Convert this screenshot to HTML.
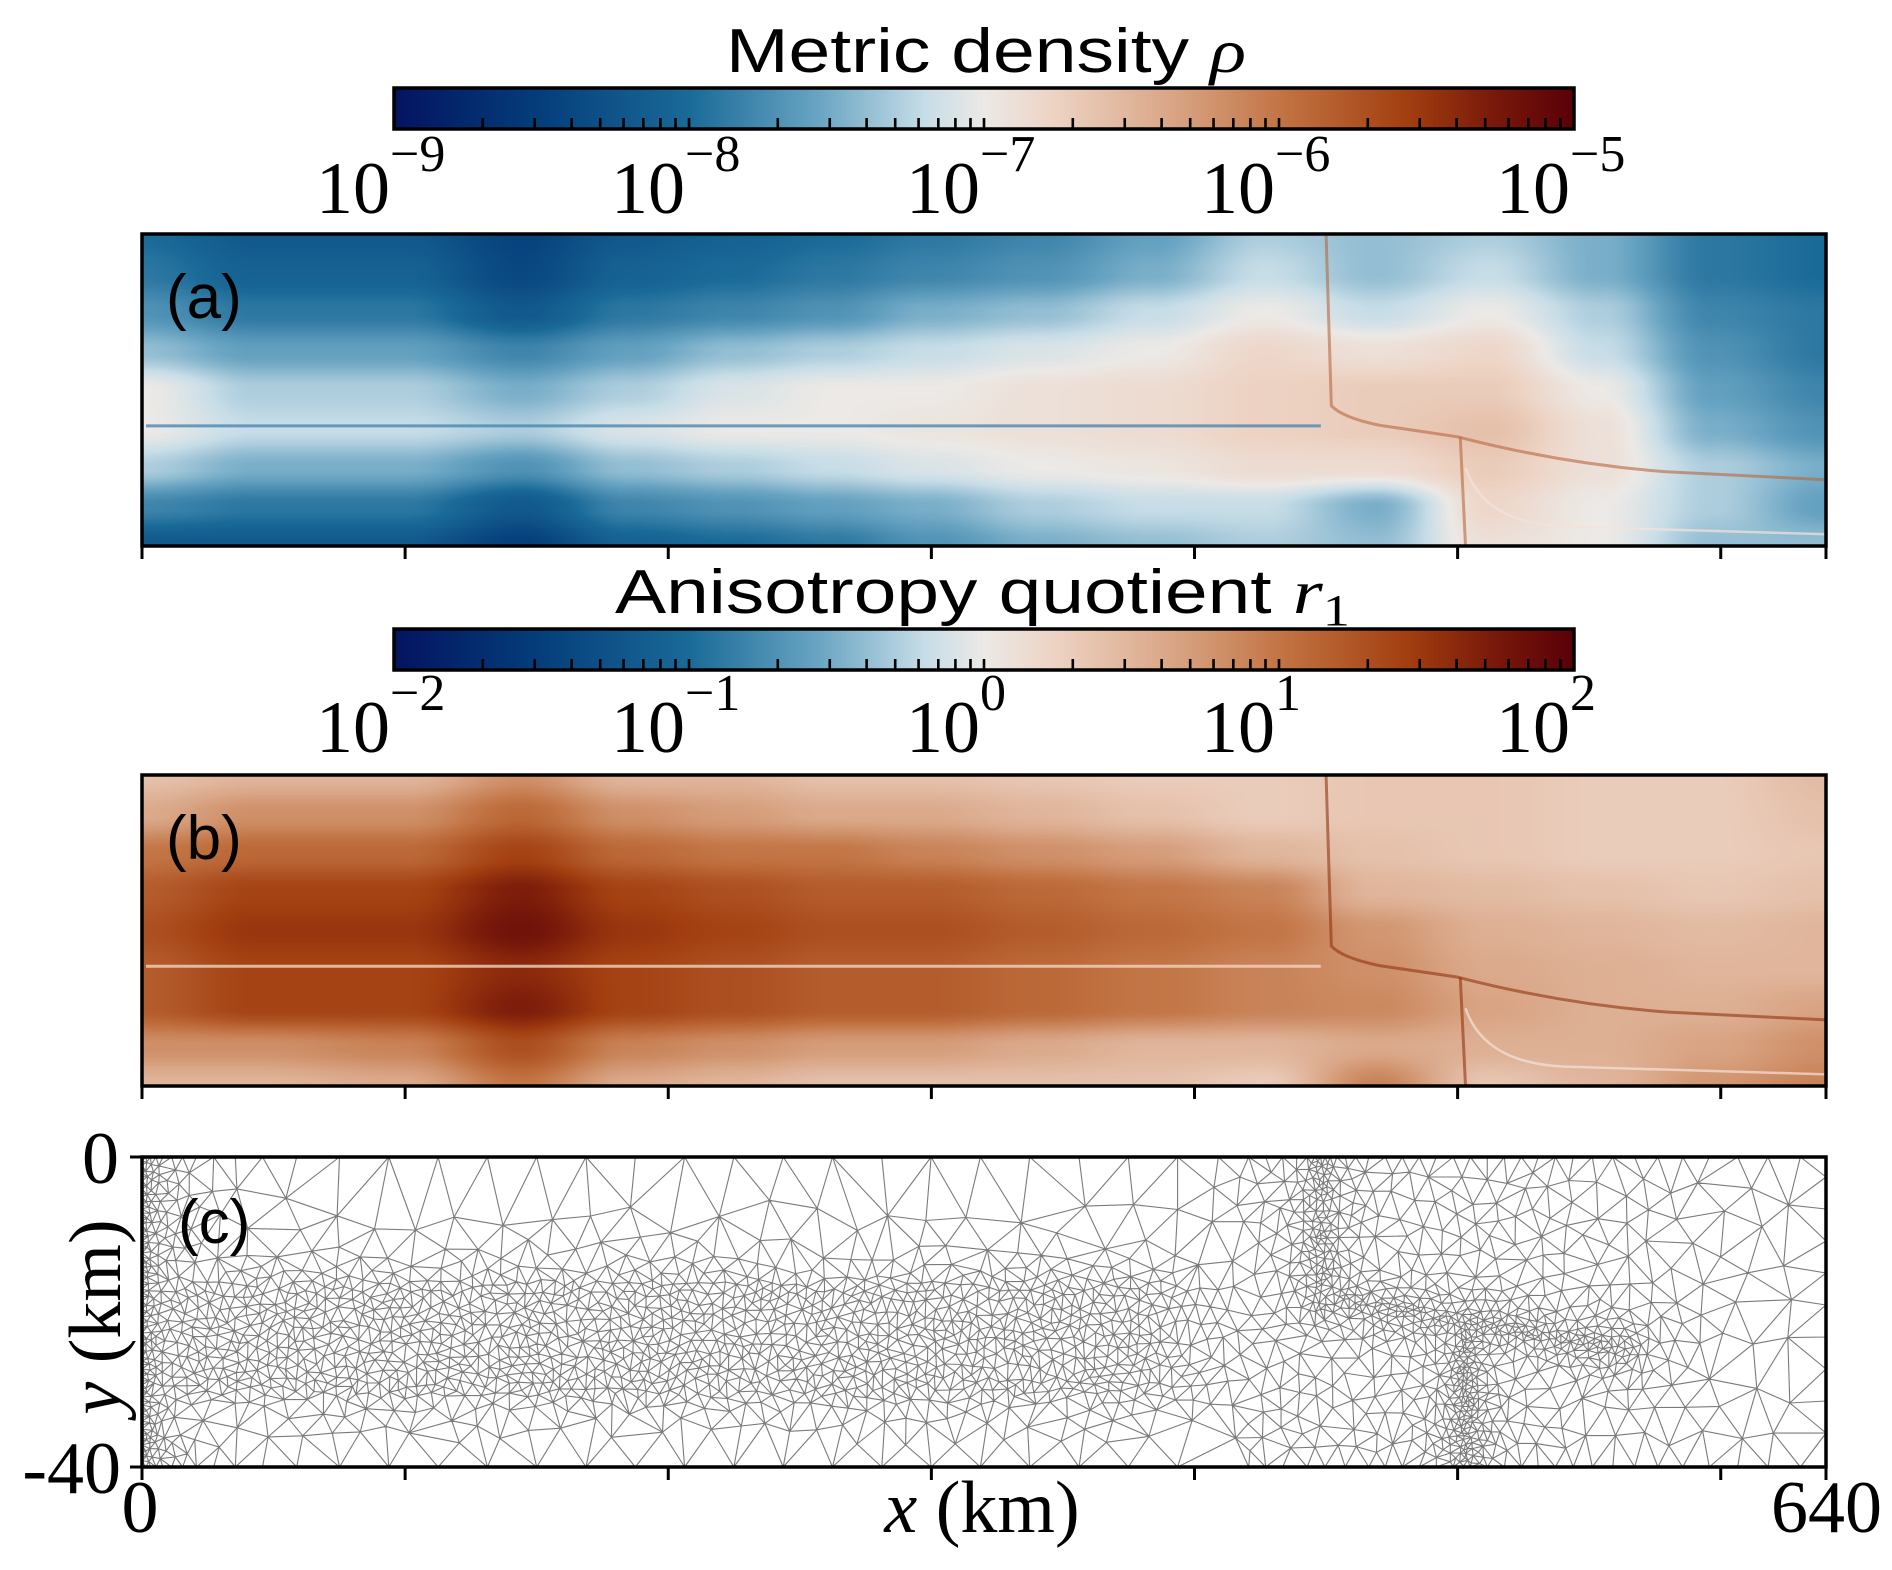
<!DOCTYPE html>
<html><head><meta charset="utf-8">
<style>
html,body{margin:0;padding:0;background:#fff;}
#root{position:relative;width:1892px;height:1570px;overflow:hidden;}
canvas{position:absolute;}
svg{position:absolute;left:0;top:0;}
.serif{font-family:"Liberation Serif",serif;}
.sans{font-family:"Liberation Sans",sans-serif;}
</style></head>
<body>
<div id="root">
<canvas id="cbA"></canvas>
<canvas id="cbB"></canvas>
<canvas id="hmA"></canvas>
<canvas id="hmB"></canvas>
<svg id="ov" width="1892" height="1570"></svg>
</div>
<script>
// ---- data ----
const xKm = [0,42.7,100,144,185,225,262,298.7,341.3,384,426.7,469.3,512,554.7,597.3,640];
const yKm = [0,-5,-10,-15,-20,-25,-30,-35,-40];
// panel (a): log10 metric density
const rhoRow0 = [-8.0,-8.2,-8.2,-8.45,-8.2,-8.1,-8.0,-7.9,-7.8,-7.6,-7.3,-7.4,-7.3,-7.5,-7.9,-8.0];
const rhoRow1 = [-7.9,-8.1,-8.1,-8.4,-8.1,-8.0,-7.9,-7.8,-7.7,-7.5,-7.2,-7.4,-7.2,-7.5,-7.9,-8.0];
const rhoRow2 = [-7.7,-7.9,-7.9,-8.2,-7.9,-7.8,-7.7,-7.5,-7.4,-7.2,-7.0,-7.2,-7.0,-7.3,-7.8,-7.9];
const rhoRow3 = [-7.4,-7.6,-7.6,-7.8,-7.6,-7.4,-7.3,-7.2,-7.1,-7.0,-6.8,-6.9,-6.8,-7.2,-7.7,-7.9];
const rhoRow4 = [-7.0,-7.3,-7.3,-7.5,-7.3,-7.1,-7.0,-7.0,-6.9,-6.85,-6.75,-6.7,-6.7,-7.0,-7.6,-7.8];
const rhoRow5 = [-7.0,-7.2,-7.2,-7.3,-7.1,-7.0,-7.0,-6.95,-6.9,-6.85,-6.75,-6.7,-6.6,-6.9,-7.5,-7.7];
const rhoRow6 = [-7.3,-7.5,-7.5,-7.7,-7.4,-7.3,-7.2,-7.1,-7.0,-6.95,-6.85,-6.85,-6.7,-6.9,-7.3,-7.5];
const rhoRow7 = [-7.8,-7.9,-7.9,-8.2,-7.8,-7.7,-7.6,-7.5,-7.3,-7.2,-7.2,-7.5,-6.8,-7.0,-7.3,-7.6];
const rhoRow8 = [-8.2,-8.2,-8.2,-8.5,-8.1,-8.0,-7.9,-7.7,-7.5,-7.4,-7.3,-7.4,-6.9,-7.0,-7.4,-7.4];
// panel (b): log10 anisotropy quotient
const r1Row0 = [0.4,0.5,0.5,0.8,0.5,0.5,0.4,0.4,0.35,0.3,0.3,0.35,0.35,0.3,0.3,0.45];
const r1Row1 = [0.6,0.8,0.8,1.1,0.8,0.7,0.6,0.6,0.5,0.4,0.3,0.35,0.35,0.3,0.3,0.4];
const r1Row2 = [1.0,1.1,1.1,1.4,1.1,1.0,1.0,0.9,0.8,0.7,0.5,0.4,0.35,0.3,0.3,0.35];
const r1Row3 = [1.2,1.4,1.4,1.7,1.4,1.3,1.2,1.2,1.1,1.0,0.9,0.5,0.45,0.4,0.35,0.4];
const r1Row4 = [1.3,1.5,1.5,1.8,1.5,1.4,1.3,1.3,1.2,1.1,1.0,0.75,0.55,0.5,0.45,0.5];
const r1Row5 = [1.2,1.4,1.4,1.6,1.4,1.3,1.2,1.2,1.1,1.0,0.9,0.8,0.6,0.55,0.5,0.5];
const r1Row6 = [1.2,1.4,1.4,1.7,1.4,1.3,1.2,1.2,1.1,1.0,0.9,0.85,0.65,0.55,0.55,0.65];
const r1Row7 = [0.8,0.8,0.9,1.3,0.9,0.8,0.7,0.7,0.6,0.5,0.5,0.6,0.55,0.55,0.65,0.8];
const r1Row8 = [0.5,0.5,0.6,1.0,0.6,0.5,0.4,0.4,0.4,0.4,0.3,0.9,0.35,0.5,0.75,0.9];
const rhoTicks = ["\u22129","\u22128","\u22127","\u22126","\u22125"];
const r1Ticks = ["\u22122","\u22121","0","1","2"];
const xTickKm = [0,100,200,300,400,500,600];

// ---- layout ----
const L=142,R=1826,W=R-L;
const PA={t:234,b:546}, PB={t:775,b:1086}, PC={t:1157,b:1467};
const CB={l:394,r:1574};
const CBA={t:88,b:129}, CBB={t:629,b:670};
const xs = km => L + km/640*W;

const stops=[[0,[4,20,96]],[0.12,[4,61,122]],[0.25,[26,106,152]],[0.36,[106,165,195]],[0.45,[199,221,231]],[0.5,[236,233,230]],[0.56,[237,211,196]],[0.66,[217,165,133]],[0.76,[192,112,63]],[0.86,[162,62,16]],[0.93,[122,26,10]],[1,[90,0,8]]];
function cmap(t){t=Math.max(0,Math.min(1,t));for(let i=1;i<stops.length;i++){if(t<=stops[i][0]){const a=stops[i-1],b=stops[i];const f=(t-a[0])/(b[0]-a[0]);return [0,1,2].map(k=>a[1][k]+(b[1][k]-a[1][k])*f);}}return stops[stops.length-1][1];}

function drawColorbar(id,cb){const c=document.getElementById(id);const w=CB.r-CB.l,h=cb.b-cb.t;c.width=w;c.height=h;c.style.left=CB.l+'px';c.style.top=cb.t+'px';const ctx=c.getContext('2d');for(let x=0;x<w;x++){const col=cmap(x/(w-1));ctx.fillStyle=`rgb(${col.map(Math.round).join(',')})`;ctx.fillRect(x,0,1,h);}}
drawColorbar('cbA',CBA);drawColorbar('cbB',CBB);

function drawHeat(id,rows,p,vmin,vmax){const c=document.getElementById(id);const w=W,h=p.b-p.t;c.width=w;c.height=h;c.style.left=L+'px';c.style.top=p.t+'px';const ctx=c.getContext('2d');const img=ctx.createImageData(w,h);const nc=xKm.length,nr=yKm.length;
for(let py=0;py<h;py++){const yk=-py/(h-1)*40;let j=0;while(j<nr-2&&yKm[j+1]>yk)j++;const fy=(yKm[j]-yk)/(yKm[j]-yKm[j+1]);const sy=fy*fy*(3-2*fy);
for(let px=0;px<w;px++){const xk=px/(w-1)*640;let i=0;while(i<nc-2&&xKm[i+1]<xk)i++;const fx=(xk-xKm[i])/(xKm[i+1]-xKm[i]);const sx=fx*fx*(3-2*fx);
const v=(rows[j][i]*(1-sx)+rows[j][i+1]*sx)*(1-sy)+(rows[j+1][i]*(1-sx)+rows[j+1][i+1]*sx)*sy;const col=cmap((v-vmin)/(vmax-vmin));const o=(py*w+px)*4;img.data[o]=col[0];img.data[o+1]=col[1];img.data[o+2]=col[2];img.data[o+3]=255;}}
ctx.putImageData(img,0,0);}
drawHeat('hmA',[rhoRow0,rhoRow1,rhoRow2,rhoRow3,rhoRow4,rhoRow5,rhoRow6,rhoRow7,rhoRow8],PA,-9,-5);
drawHeat('hmB',[r1Row0,r1Row1,r1Row2,r1Row3,r1Row4,r1Row5,r1Row6,r1Row7,r1Row8],PB,-2,2);

// ---- overlay svg ----
const NS='http://www.w3.org/2000/svg';const ov=document.getElementById('ov');
function el(tag,attrs,parent){const e=document.createElementNS(NS,tag);for(const k in attrs)e.setAttribute(k,attrs[k]);(parent||ov).appendChild(e);return e;}
function yOf(p,yk){return p.t+(-yk)/40*(p.b-p.t);}

function features(p,c1,c2,name){const g=el('g',{});


el('line',{x1:L+4,y1:yOf(p,-24.6),x2:xs(448),y2:yOf(p,-24.6),stroke:c1,'stroke-width':3,opacity:0.8},g);
el('path',{d:`M${xs(450)} ${p.t} L${xs(452)} ${yOf(p,-22)} Q${xs(456)} ${yOf(p,-23.5)} ${xs(470)} ${yOf(p,-24.5)} L${xs(500)} ${yOf(p,-26)} Q${xs(540)} ${yOf(p,-29.5)} ${xs(580)} ${yOf(p,-30.5)} L${xs(640)} ${yOf(p,-31.5)}`,fill:'none',stroke:c2,'stroke-width':3,opacity:0.6},g);
el('path',{d:`M${xs(501)} ${yOf(p,-26)} L${xs(503)} ${p.b}`,fill:'none',stroke:c2,'stroke-width':3,opacity:0.6},g);
el('path',{d:`M${xs(503)} ${yOf(p,-30)} Q${xs(510)} ${yOf(p,-37)} ${xs(540)} ${yOf(p,-37.5)} L${xs(640)} ${yOf(p,-38.5)}`,fill:'none',stroke:'#f3e3da','stroke-width':2.5,opacity:0.7},g);}
features(PA,'#4a86b3','#b8663d','feature-lines-a');
features(PB,'#f3d4c2','#8f3411','feature-lines-b');

// mesh for panel c
(function(){const H=PC.b-PC.t;
function hfun(px,py){const fy=py/H;let h=px<1150?58:40;
h=Math.min(h,4+px*0.3);
if(px<1250){const bandD=fy<0.42?(0.42-fy)*H:(fy>0.75?(fy-0.75)*H:0);const fade=px>1000?(px-1000)*0.1:0;h=Math.min(h,10+bandD*0.5+fade);}
if(px>1100)h=Math.min(h,20+Math.max(0,px-1400)*0.08);
const vx=0.7*W;if(fy<0.5)h=Math.min(h,5+Math.abs(px-vx)*0.3);
const ax=0.7*W,ay=0.45*H,bx=0.88*W,by=0.62*H;let t=((px-ax)*(bx-ax)+(py-ay)*(by-ay))/((bx-ax)**2+(by-ay)**2);t=Math.max(0,Math.min(1,t));const dd=Math.hypot(px-ax-t*(bx-ax),py-ay-t*(by-ay));h=Math.min(h,5+dd*0.3);
const wx=0.786*W;if(fy>0.55)h=Math.min(h,4+Math.abs(px-wx)*0.25);
return h;}
function hash(a,b){let n=(a*374761393+b*668265263)|0;n=(n^(n>>>13))*1274126177|0;n=n^(n>>>16);return (n>>>0)/4294967296;}
const pts=[];const G=8;const gw=Math.ceil(W/G)+1,gh=Math.ceil(H/G)+1;const grid=new Array(gw*gh);for(let i=0;i<grid.length;i++)grid[i]=[];
function tryAdd(x,y,r){const cx=Math.floor(x/G),cy=Math.floor(y/G);const k=Math.ceil(60/G);for(let j=Math.max(0,cy-k);j<=Math.min(gh-1,cy+k);j++)for(let i=Math.max(0,cx-k);i<=Math.min(gw-1,cx+k);i++){for(const q of grid[j*gw+i]){const rr=Math.min(r,q[2]);if((q[0]-x)**2+(q[1]-y)**2<rr*rr)return;}}const p=[x,y,r];grid[cy*gw+cx].push(p);pts.push([x,y]);}
for(let x=0;x<=W;){tryAdd(x,0,hfun(x,1)*0.8);tryAdd(x,H,hfun(x,H-1)*0.8);x+=Math.max(4,hfun(x,2)*0.85);}
for(let y=0;y<=H;){tryAdd(0,y,4);tryAdd(W,y,hfun(W-1,y)*0.8);y+=Math.max(4,Math.min(hfun(0,y),hfun(W-1,y))*0.85);}
const NC=80000;for(let k=0;k<NC;k++){const x=1+hash(k,11)*(W-2),y=1+hash(k,29)*(H-2);tryAdd(x,y,hfun(x,y)*0.85);}
const n=pts.length;pts.sort((a,b)=>a[0]-b[0]);const big=1e5;const P=pts.concat([[-big,-big],[big*2,-big],[-big,big*2]]);
let tris=[[n,n+1,n+2]];
function circ(t){const a=P[t[0]],b=P[t[1]],c=P[t[2]];const d=2*(a[0]*(b[1]-c[1])+b[0]*(c[1]-a[1])+c[0]*(a[1]-b[1]));const A=a[0]*a[0]+a[1]*a[1],B=b[0]*b[0]+b[1]*b[1],C=c[0]*c[0]+c[1]*c[1];const ux=(A*(b[1]-c[1])+B*(c[1]-a[1])+C*(a[1]-b[1]))/d,uy=(A*(c[0]-b[0])+B*(a[0]-c[0])+C*(b[0]-a[0]))/d;return [ux,uy,(a[0]-ux)**2+(a[1]-uy)**2];}
let cc=[circ(tris[0])];
for(let i=0;i<n;i++){const px=P[i][0],py=P[i][1];const bad=[],keepT=[],keepC=[];for(let k=0;k<tris.length;k++){const c=cc[k];if((px-c[0])**2+(py-c[1])**2<c[2])bad.push(tris[k]);else{keepT.push(tris[k]);keepC.push(c);}}
const em=new Map();for(const t of bad)for(let e=0;e<3;e++){const a=t[e],b=t[(e+1)%3];const key=a<b?a*100000+b:b*100000+a;em.set(key,(em.get(key)||0)+1);}
for(const [key,cnt] of em){if(cnt===1){const a=Math.floor(key/100000),b=key%100000;const t=[a,b,i];keepT.push(t);keepC.push(circ(t));}}
tris=keepT;cc=keepC;}
const seen=new Set();let d='';for(const t of tris){if(t[0]>=n||t[1]>=n||t[2]>=n)continue;for(let e=0;e<3;e++){const a=t[e],b=t[(e+1)%3];const key=a<b?a*100000+b:b*100000+a;if(seen.has(key))continue;seen.add(key);d+=`M${(L+P[a][0]).toFixed(1)} ${(PC.t+P[a][1]).toFixed(1)}L${(L+P[b][0]).toFixed(1)} ${(PC.t+P[b][1]).toFixed(1)}`;}}
const m=el('path',{d:d,fill:'none',stroke:'#222','stroke-width':1.1,'stroke-opacity':0.6});


})();

function frame(p,name){const r=el('rect',{x:L,y:p.t,width:W,height:p.b-p.t,fill:'none',stroke:'#000','stroke-width':3.5});


xTickKm.forEach(k=>{const t=el('line',{x1:xs(k),x2:xs(k),y1:p.b,y2:p.b+13,stroke:'#000','stroke-width':3});

});
el('line',{x1:R,x2:R,y1:p.b,y2:p.b+13,stroke:'#000','stroke-width':3});}
frame(PA,'panel-a-frame');frame(PB,'panel-b-frame');frame(PC,'panel-c-frame');
el('line',{x1:L-12,x2:L,y1:PC.t,y2:PC.t,stroke:'#000','stroke-width':3});
el('line',{x1:L-12,x2:L,y1:PC.b,y2:PC.b,stroke:'#000','stroke-width':3});

function cbDecor(cb,labels,titleX,titleW,labY,name){const r=el('rect',{x:CB.l,y:cb.t,width:CB.r-CB.l,height:cb.b-cb.t,fill:'none',stroke:'#000','stroke-width':3.5});


const dw=(CB.r-CB.l)/4;for(let dcd=0;dcd<4;dcd++)for(let k=1;k<10;k++){const x=CB.l+dw*(dcd+Math.log10(k));el('line',{x1:x,x2:x,y1:cb.b,y2:cb.b-11,stroke:'#000','stroke-width':2.6});}
labels.forEach((lab,i)=>{const x=CB.l+dw*i;const g=el('text',{x:x-78,y:labY,'font-size':74,class:'serif'});


g.textContent='10';const s=el('tspan',{dy:-42,'font-size':52},g);s.textContent=lab;});
const t=el('text',{x:titleX,y:cb.t-16,'font-size':62,class:'sans',textLength:titleW,lengthAdjust:'spacingAndGlyphs'});


return t;}
const tA=cbDecor(CBA,rhoTicks,726,520,213,'colorbar-a');tA.textContent='Metric density ';const rho=el('tspan',{'font-style':'italic',class:'serif'},tA);rho.textContent='\u03c1';
const tB=cbDecor(CBB,r1Ticks,615,735,752,'colorbar-b');tB.textContent='Anisotropy quotient ';const rr=el('tspan',{'font-style':'italic',class:'serif'},tB);rr.textContent='r';const sub=el('tspan',{dy:12,'font-size':44,class:'serif'},tB);sub.textContent='1';

function txt(s,attrs,name){const t=el('text',attrs);t.textContent=s;

return t;}
txt('(a)',{x:166,y:318,'font-size':62,class:'sans'},'panel-label-a');
txt('(b)',{x:166,y:859,'font-size':62,class:'sans'},'panel-label-b');
txt('(c)',{x:178,y:1243,'font-size':62,class:'sans'},'panel-label-c');
txt('0',{x:140,y:1532,'font-size':74,class:'serif','text-anchor':'middle'},'x-tick-label-0');
txt('640',{x:1882,y:1532,'font-size':74,class:'serif','text-anchor':'end'},'x-tick-label-640');
txt('0',{x:119,y:1183,'font-size':74,class:'serif','text-anchor':'end'},'y-tick-label-0');
txt('-40',{x:121,y:1493,'font-size':74,class:'serif','text-anchor':'end'},'y-tick-label-minus40');
const xl=txt('',{x:982,y:1532,'font-size':74,class:'serif','text-anchor':'middle'},'x-axis-title');
const xi=el('tspan',{'font-style':'italic'},xl);xi.textContent='x';const xr=el('tspan',{},xl);xr.textContent=' (km)';
const yl=txt('',{x:0,y:0,'font-size':74,class:'serif','text-anchor':'middle',transform:'translate(120,1317) rotate(-90)'},'y-axis-title');
const yi=el('tspan',{'font-style':'italic'},yl);yi.textContent='y';const yr=el('tspan',{},yl);yr.textContent=' (km)';
</script>
</body></html>
